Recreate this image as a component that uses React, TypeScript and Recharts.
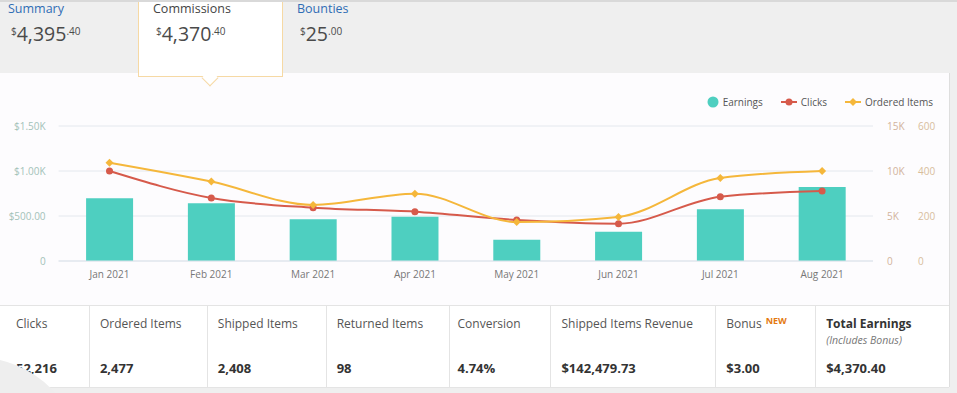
import React from 'react';
import {
  ComposedChart,
  Bar,
  Line,
  XAxis,
  YAxis,
  CartesianGrid,
  Legend,
} from 'recharts';

const months = ['Jan 2021', 'Feb 2021', 'Mar 2021', 'Apr 2021', 'May 2021', 'Jun 2021', 'Jul 2021', 'Aug 2021'];
const earnings = [698, 643, 463, 492, 237, 326, 574, 822];
const clicks = [10000, 7000, 5922, 5478, 4556, 4148, 7148, 7778];
const orderedItems = [437, 353, 249, 299, 173, 196, 369, 400];

const earningsTicks = [0, 500, 1000, 1500];
const clicksTicks = [0, 5000, 10000, 15000];
const itemsTicks = [0, 200, 400, 600];

const legendOrder = ['earnings', 'clicks', 'orderedItems'];

const tabs = [
  { label: 'Summary', whole: '4,395', cents: '40', active: false, left: 8 },
  { label: 'Commissions', whole: '4,370', cents: '40', active: true, left: 153 },
  { label: 'Bounties', whole: '25', cents: '00', active: false, left: 297 },
];

const stats = [
  { label: 'Clicks', value: '52,216', width: 90 },
  { label: 'Ordered Items', value: '2,477', width: 118 },
  { label: 'Shipped Items', value: '2,408', width: 119 },
  { label: 'Returned Items', value: '98', width: 123 },
  { label: 'Conversion', value: '4.74%', width: 102 },
  { label: 'Shipped Items Revenue', value: '$142,479.73', width: 165 },
  { label: 'Bonus', value: '$3.00', width: 100 },
  { label: 'Total Earnings', value: '$4,370.40', width: 133 },
];

const data = months.map((m, i) => ({
  month: m,
  earnings: earnings[i],
  clicks: clicks[i],
  orderedItems: orderedItems[i],
}));

const TEAL = '#4ecfc0';
const RED = '#d65a4b';
const YELLOW = '#f5b73b';
const FONT = '"Open Sans", sans-serif';

const fmtEarn = (v: number) => {
  if (v === 0) return '0';
  if (v >= 1000) return `$${(v / 1000).toFixed(2)}K`;
  return `$${v.toFixed(2)}`;
};
const fmtClicks = (v: number) => (v === 0 ? '0' : `${v / 1000}K`);

const Diamond = (props: any) => {
  const { cx, cy, fill } = props;
  if (cx == null || cy == null) return null;
  const r = 4;
  return (
    <path
      d={`M${cx},${cy - r} L${cx + r},${cy} L${cx},${cy + r} L${cx - r},${cy} Z`}
      fill={fill}
    />
  );
};

const LegendContent = (props: any) => {
  const payload = [...(props.payload || [])].sort(
    (a: any, b: any) => legendOrder.indexOf(a.dataKey) - legendOrder.indexOf(b.dataKey)
  );
  return (
    <div style={{ height: 34, display: 'flex', justifyContent: 'flex-end', paddingRight: 16, fontFamily: FONT, fontSize: 10, color: '#555' }}>
      {payload.map((p: any) => (
        <div key={p.value} style={{ display: 'flex', alignItems: 'center', height: 20, marginLeft: 18 }}>
          <svg width={p.dataKey === 'earnings' ? 12 : 16} height={12} style={{ marginRight: 4 }}>
            {p.dataKey === 'earnings' ? (
              <circle cx={6} cy={6} r={5.5} fill={p.color} />
            ) : (
              <>
                <line x1={0} y1={6} x2={16} y2={6} stroke={p.color} strokeWidth={2} />
                {p.dataKey === 'clicks' ? (
                  <circle cx={8} cy={6} r={3.5} fill={p.color} />
                ) : (
                  <path d="M8,2 L12,6 L8,10 L4,6 Z" fill={p.color} />
                )}
              </>
            )}
          </svg>
          <span>{p.value}</span>
        </div>
      ))}
    </div>
  );
};

const App: React.FC = () => {
  return (
    <div style={{ position: 'absolute', left: 0, top: 0, width: 957, height: 393, background: '#efefef', overflow: 'hidden', fontFamily: FONT }}>
      {/* top rule */}
      <div style={{ position: 'absolute', left: 0, top: 0, width: 957, height: 2, background: '#d9d9d9' }} />

      {/* active tab box */}
      <div style={{ position: 'absolute', left: 138, top: 2, width: 143, height: 74, background: '#fff', border: '1px solid #f6d9a4', borderTop: 'none', zIndex: 2 }} />
      <div style={{ position: 'absolute', left: 204, top: 72, width: 11, height: 11, background: '#fff', borderRight: '1px solid #f6d9a4', borderBottom: '1px solid #f6d9a4', transform: 'rotate(45deg)', zIndex: 2 }} />

      {tabs.map((t) => (
        <div key={t.label} style={{ position: 'absolute', left: t.left, top: 0, zIndex: 3 }}>
          <div style={{ fontSize: 12.5, lineHeight: '18px', color: t.active ? '#444' : '#2f6db5' }}>{t.label}</div>
          <div style={{ marginTop: 3, marginLeft: 3, color: '#4a4a4a', lineHeight: '26px', whiteSpace: 'nowrap' }}>
            <span style={{ fontSize: 10, verticalAlign: 'top', position: 'relative', top: -3 }}>$</span>
            <span style={{ fontSize: 19.5 }}>{t.whole}</span>
            <span style={{ fontSize: 10, verticalAlign: 'top', position: 'relative', top: -3 }}>.{t.cents}</span>
          </div>
        </div>
      ))}

      {/* chart card */}
      <div style={{ position: 'absolute', left: 0, top: 73, width: 949, height: 314, background: '#fdfcfe', borderRight: '1px solid #dedede', zIndex: 1 }}>
        <ComposedChart
          width={949}
          height={232}
          data={data}
          margin={{ top: 19, right: 0, bottom: 14, left: 0 }}
          barCategoryGap="27%"
        >
          <CartesianGrid vertical={false} stroke="#e4e8ee" yAxisId="left" />
          <Legend verticalAlign="top" align="right" content={<LegendContent />} />
          <XAxis
            dataKey="month"
            tickLine={false}
            tickSize={0}
            tickMargin={10}
            axisLine={{ stroke: '#dde4ec' }}
            tick={{ fill: '#777', fontSize: 10, fontFamily: FONT }}
            height={30}
          />
          <YAxis
            yAxisId="left"
            width={58.6}
            domain={[0, 1500]}
            ticks={earningsTicks}
            tickFormatter={fmtEarn}
            axisLine={false}
            tickLine={false}
            tickSize={0}
            tickMargin={13}
            tick={{ fill: '#a3c2b9', fontSize: 10, fontFamily: FONT }}
          />
          <YAxis
            yAxisId="clicks"
            orientation="right"
            width={31}
            domain={[0, 15000]}
            ticks={clicksTicks}
            tickFormatter={fmtClicks}
            axisLine={false}
            tickLine={false}
            tickSize={0}
            tickMargin={14}
            tick={{ fill: '#d2b39c', fontSize: 10, fontFamily: FONT }}
          />
          <YAxis
            yAxisId="items"
            orientation="right"
            width={45}
            domain={[0, 600]}
            ticks={itemsTicks}
            axisLine={false}
            tickLine={false}
            tickSize={0}
            tickMargin={14}
            tick={{ fill: '#d8bd9c', fontSize: 10, fontFamily: FONT }}
          />
          <Bar yAxisId="left" dataKey="earnings" name="Earnings" fill={TEAL} isAnimationActive={false} />
          <Line
            yAxisId="clicks"
            type="monotone"
            dataKey="clicks"
            name="Clicks"
            stroke={RED}
            strokeWidth={2}
            dot={{ r: 3.5, fill: RED, stroke: RED, strokeWidth: 0 }}
            isAnimationActive={false}
          />
          <Line
            yAxisId="items"
            type="monotone"
            dataKey="orderedItems"
            name="Ordered Items"
            stroke={YELLOW}
            strokeWidth={2}
            dot={<Diamond fill={YELLOW} />}
            isAnimationActive={false}
          />
        </ComposedChart>

        {/* stats table */}
        <div style={{ position: 'absolute', left: 0, top: 232, width: 949, height: 81, display: 'flex', borderTop: '1px solid #e4e4e4', borderBottom: '1px solid #e4e4e4', background: '#fff' }}>
          {stats.map((s, i) => (
            <div
              key={s.label}
              style={{
                width: s.width,
                boxSizing: 'border-box',
                borderRight: i < stats.length - 1 ? '1px solid #e4e4e4' : 'none',
                paddingLeft: i === 0 ? 16 : i === 4 ? 8 : 10,
                position: 'relative',
              }}
            >
              <div style={{ position: 'absolute', top: 9, fontSize: 12, color: s.label === 'Total Earnings' ? '#333' : '#555', fontWeight: s.label === 'Total Earnings' ? 700 : 400, whiteSpace: 'nowrap' }}>
                {s.label}
                {s.label === 'Bonus' && (
                  <span style={{ color: '#e47911', fontWeight: 700, fontSize: 9, marginLeft: 4, position: 'relative', top: -4 }}>NEW</span>
                )}
              </div>
              {s.label === 'Total Earnings' && (
                <div style={{ position: 'absolute', top: 27, fontSize: 10.5, fontStyle: 'italic', color: '#777', whiteSpace: 'nowrap' }}>(Includes Bonus)</div>
              )}
              <div style={{ position: 'absolute', top: 53, fontSize: 13, fontWeight: 700, color: '#333' }}>{s.value}</div>
            </div>
          ))}
        </div>
      </div>

      {/* soft overlay circle bottom-left */}
      <div style={{ position: 'absolute', left: -133, top: 357, width: 216, height: 216, borderRadius: '50%', background: '#eeeeee', zIndex: 5 }} />
    </div>
  );
};

export default App;
